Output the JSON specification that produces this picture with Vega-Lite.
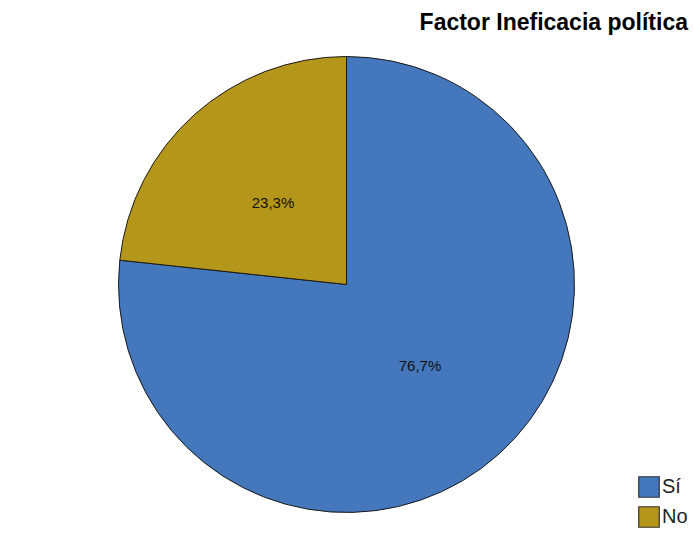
{
  "$schema": "https://vega.github.io/schema/vega-lite/v6.json",
  "width": 693,
  "height": 535,
  "autosize": {"type": "fit", "contains": "padding"},
  "padding": {"left": 5, "right": 5, "top": 12, "bottom": 5},
  "background": "white",
  "title": {
    "text": "Factor Ineficacia política",
    "anchor": "end",
    "font": "Liberation Sans",
    "fontSize": 23,
    "fontWeight": "bold",
    "color": "#000000",
    "offset": 4
  },
  "data": {
    "values": [
      {"categoria": "Sí", "porcentaje": 76.7, "orden": 1, "etiqueta": "76,7%"},
      {"categoria": "No", "porcentaje": 23.3, "orden": 2, "etiqueta": "23,3%"}
    ]
  },
  "encoding": {
    "theta": {"field": "porcentaje", "type": "quantitative", "stack": true},
    "order": {"field": "orden", "type": "quantitative"}
  },
  "layer": [
    {
      "mark": {"type": "arc", "radius": 228, "stroke": "#1a1a1a", "strokeWidth": 1},
      "encoding": {
        "color": {
          "field": "categoria",
          "type": "nominal",
          "sort": ["Sí", "No"],
          "scale": {"domain": ["Sí", "No"], "range": ["#4477BB", "#B3961A"]},
          "legend": {
            "title": null,
            "orient": "bottom-right",
            "symbolType": "square",
            "symbolSize": 420,
            "symbolStrokeColor": "#333333",
            "symbolStrokeWidth": 1.2,
            "labelFont": "Liberation Sans",
            "labelFontSize": 20,
            "labelColor": "#222222",
            "rowPadding": 4,
            "offset": 0,
            "labelOffset": 2
          }
        }
      }
    },
    {
      "mark": {"type": "text", "radius": 110, "font": "Liberation Sans", "fontSize": 15, "color": "#111111"},
      "encoding": {
        "text": {"field": "etiqueta", "type": "nominal"}
      }
    }
  ]
}
